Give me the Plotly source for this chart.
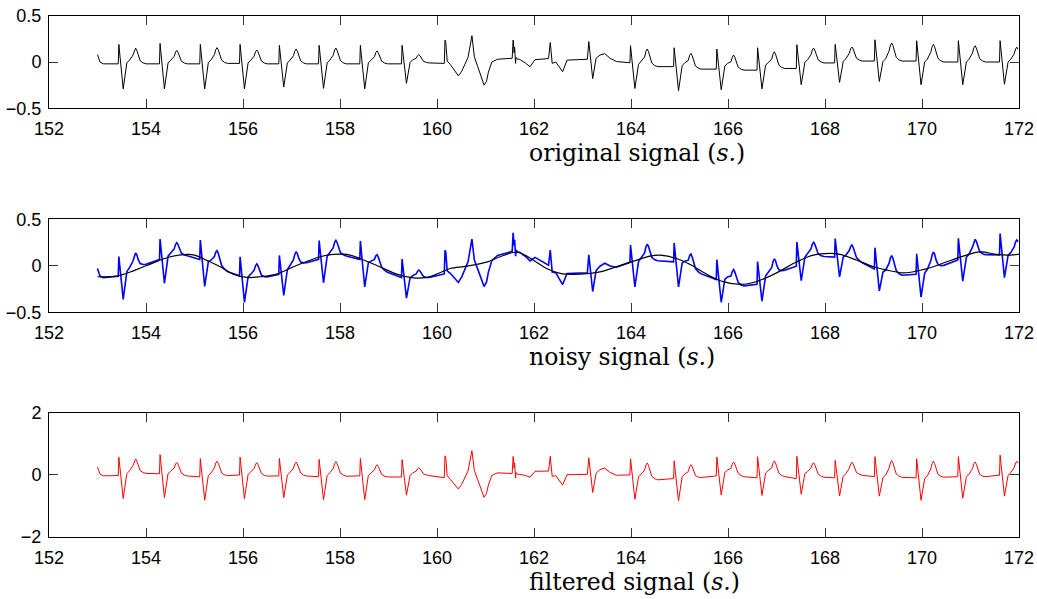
import numpy as np
import plotly.graph_objects as go

# ---- regular beats: R-peak time (s) and wave levels ----
R_TIME = [153.44, 154.29, 155.12, 155.94, 156.75, 157.57, 158.42, 159.28,
          163.99, 164.89, 165.77, 166.61, 167.42, 168.21, 169.03, 169.89, 170.75, 171.61]
R_AMP = [0.19, 0.20, 0.19, 0.19, 0.18, 0.18, 0.18, 0.18,
         0.176, 0.154, 0.14, 0.154, 0.187, 0.19, 0.24, 0.23, 0.23, 0.23]
S_AMP = [-0.29, -0.29, -0.29, -0.29, -0.27, -0.285, -0.29, -0.23,
         -0.286, -0.31, -0.30, -0.29, -0.245, -0.22, -0.21, -0.245, -0.245, -0.24]
T_AMP = [0.15, 0.125, 0.155, 0.13, 0.14, 0.15, 0.12, 0.08,
         0.14, 0.093, 0.075, 0.11, 0.15, 0.162, 0.205, 0.19, 0.175, 0.16]
BASE = [-0.02, -0.02, -0.015, -0.02, -0.02, -0.02, -0.02, -0.01,
        -0.05, -0.077, -0.088, -0.07, -0.01, 0.01, 0.01, 0.0, 0.0, 0.0]

# opening samples of the record
START_T = [153.0, 153.05, 153.12]
START_V = [0.08, 0.0, -0.02]

# irregular stretch (ectopic beats) between 160 s and 164 s
ABN_T = [160.15, 160.165, 160.18, 160.21, 160.28, 160.36, 160.44, 160.51, 160.58, 160.64,
         160.72, 160.77, 160.84, 160.91, 160.97, 161.02, 161.06, 161.13, 161.25, 161.55,
         161.57, 161.59, 161.60, 161.62, 161.63, 161.66, 161.70, 161.82, 161.92,
         162.02, 162.30, 162.335, 162.375, 162.45, 162.53, 162.59, 162.68, 163.10,
         163.13, 163.21, 163.28, 163.36, 163.46, 163.57, 163.70, 163.91]
ABN_V = [-0.015, 0.237, 0.22, 0.01, -0.03, -0.09, -0.15, -0.10, -0.02, 0.05,
         0.284, 0.056, -0.05, -0.17, -0.25, -0.21, -0.11, 0.0, 0.03, 0.04,
         0.237, 0.10, 0.16, -0.015, 0.05, 0.03, 0.03, -0.01, -0.05,
         0.025, 0.037, 0.21, -0.015, 0.0, -0.06, -0.105, 0.02, 0.03,
         0.22, -0.18, 0.04, 0.075, 0.09, 0.04, 0.005, -0.008]

# baseline wander present in the noisy recording
WANDER_T = [153.0, 153.2, 153.4, 153.75, 154.1, 154.5, 154.9, 155.2, 155.5, 155.8,
            156.1, 156.4, 156.7, 157.0, 157.4, 157.8, 158.1, 158.4, 158.8, 159.2,
            159.5, 159.8, 160.1, 160.5, 161.0, 161.3, 161.6, 161.9, 162.2, 162.5,
            162.9, 163.3, 163.7, 164.0, 164.4, 164.7, 165.0, 165.3, 165.6, 165.9,
            166.3, 166.6, 166.9, 167.2, 167.6, 168.0, 168.3, 168.7, 169.0, 169.3,
            169.7, 170.0, 170.3, 170.6, 170.9, 171.2, 171.5, 171.8, 172.0]
WANDER_V = [-0.11, -0.105, -0.10, -0.02, 0.06, 0.12, 0.13, 0.07, 0.0, -0.08,
            -0.11, -0.11, -0.08, -0.01, 0.07, 0.12, 0.13, 0.09, -0.01, -0.10,
            -0.13, -0.12, -0.08, -0.02, 0.03, 0.09, 0.12, 0.11, 0.0, -0.09,
            -0.12, -0.09, -0.02, 0.05, 0.10, 0.11, 0.08, 0.02, -0.04, -0.10,
            -0.13, -0.11, -0.05, 0.03, 0.10, 0.11, 0.10, 0.04, -0.04, -0.09,
            -0.12, -0.09, -0.03, 0.04, 0.09, 0.12, 0.12, 0.11, 0.12]

# estimated baseline (smooth black curve)
BLACK_T = [153.0, 153.4, 153.74, 154.0, 154.5, 154.84, 155.0, 155.25, 155.53, 155.80,
           156.08, 156.35, 156.69, 157.04, 157.38, 157.59, 157.86, 158.14, 158.41, 158.82,
           159.17, 159.51, 159.79, 160.06, 160.27, 160.61, 161.02, 161.30, 161.57, 161.71,
           161.99, 162.26, 162.54, 162.95, 163.36, 163.70, 164.05, 164.39, 164.60, 164.94,
           165.22, 165.56, 165.90, 166.25, 166.52, 166.80, 167.07, 167.42, 167.76, 168.10,
           168.31, 168.66, 169.00, 169.28, 169.61, 169.89, 170.23, 170.51, 170.85, 171.20,
           171.54, 171.81, 172.0]
BLACK_V = [-0.118, -0.11, -0.054, 0.0, 0.097, 0.122, 0.115, 0.06, -0.01, -0.09,
           -0.125, -0.118, -0.09, -0.01, 0.06, 0.097, 0.122, 0.122, 0.079, -0.01,
           -0.09, -0.13, -0.125, -0.075, -0.029, -0.004, 0.04, 0.097, 0.143, 0.14,
           0.06, -0.029, -0.082, -0.09, -0.065, -0.01, 0.05, 0.104, 0.115, 0.079,
           0.014, -0.09, -0.17, -0.2, -0.18, -0.125, -0.057, 0.043, 0.115, 0.133,
           0.122, 0.06, -0.01, -0.047, -0.075, -0.057, -0.01, 0.043, 0.104, 0.15,
           0.122, 0.115, 0.125]

FILTER_GAIN = 2.8
X_TICKS = [152, 154, 156, 158, 160, 162, 164, 166, 168, 170, 172]


def beat(tr, r, s, tw, b_prev, b):
    """Points of one regular beat: baseline, R spike, S trough, rounded T wave."""
    dt = [-0.012, 0.0, 0.09, 0.165, 0.22, 0.29, 0.32, 0.345, 0.37, 0.40, 0.44, 0.50, 0.56]
    h = tw - b
    vs = [b_prev, r, s, 0.5 * b, 0.5 * b + 0.03, b + 0.55 * h, b + 0.88 * h, tw,
          b + 0.86 * h, b + 0.5 * h, b + 0.2 * h, b + 0.06 * h, b]
    return [tr + d for d in dt], vs


pts_t = list(START_T) + list(ABN_T)
pts_v = list(START_V) + list(ABN_V)
prev = START_V[-1]
for i, tr in enumerate(R_TIME):
    if i > 0 and R_TIME[i - 1] < 160 < tr:
        prev = ABN_V[-1]
    ts, vs = beat(tr, R_AMP[i], S_AMP[i], T_AMP[i], prev, BASE[i])
    pts_t += ts
    pts_v += vs
    prev = BASE[i]

order = np.argsort(pts_t)
t = np.array(pts_t)[order]
orig = np.array(pts_v)[order]
keep = t <= 172.0
t, orig = t[keep], orig[keep]

noisy = orig + np.interp(t, WANDER_T, WANDER_V)
filtered = FILTER_GAIN * (noisy - np.interp(t, BLACK_T, BLACK_V))

fig = go.Figure()
fig.add_trace(go.Scatter(x=t, y=orig, mode="lines",
                         line=dict(color="black", width=1), xaxis="x", yaxis="y"))
fig.add_trace(go.Scatter(x=t, y=noisy, mode="lines",
                         line=dict(color="#0000ff", width=1.6), xaxis="x2", yaxis="y2"))
fig.add_trace(go.Scatter(x=BLACK_T, y=BLACK_V, mode="lines",
                         line=dict(color="black", width=1.2, shape="spline"),
                         xaxis="x2", yaxis="y2"))
fig.add_trace(go.Scatter(x=t, y=filtered, mode="lines",
                         line=dict(color="#ff0000", width=1), xaxis="x3", yaxis="y3"))

W, H = 1037, 599
xdom = [49 / W, 1019 / W]
tick_font = dict(family="Liberation Sans, Arial, sans-serif", size=18, color="black")

common = dict(showline=True, linecolor="black", linewidth=1, mirror="ticks",
              ticks="inside", ticklen=9, tickcolor="#333", tickwidth=1,
              showgrid=False, zeroline=False, tickfont=tick_font, automargin=False)

xax = dict(common, range=[152, 172], tickvals=X_TICKS,
           ticktext=[str(v) for v in X_TICKS], domain=xdom, ticklabelstandoff=4)


def ydom(top, bottom):
    return [1 - bottom / H, 1 - top / H]


fig.update_layout(
    width=W, height=H, margin=dict(l=0, r=0, t=0, b=0, pad=0),
    paper_bgcolor="white", plot_bgcolor="white", showlegend=False,
    xaxis=dict(xax, anchor="y"),
    xaxis2=dict(xax, anchor="y2"),
    xaxis3=dict(xax, anchor="y3"),
    yaxis=dict(common, range=[-0.5, 0.5], tickvals=[-0.5, 0, 0.5],
               ticktext=["\u22120.5", "0", "0.5"], domain=ydom(15.7, 108.3),
               anchor="x", ticklabelstandoff=3),
    yaxis2=dict(common, range=[-0.5, 0.5], tickvals=[-0.5, 0, 0.5],
                ticktext=["\u22120.5", "0", "0.5"], domain=ydom(219.3, 312.3),
                anchor="x2", ticklabelstandoff=3),
    yaxis3=dict(common, range=[-2, 2], tickvals=[-2, 0, 2],
                ticktext=["\u22122", "0", "2"], domain=ydom(412.7, 537),
                anchor="x3", ticklabelstandoff=3),
)

label_font = dict(family="DejaVu Serif, Liberation Serif, serif", size=23.5, color="black")
for text, yc in [("original signal (<i>s.</i>)", 153),
                 ("noisy signal (<i>s.</i>)", 357),
                 ("filtered signal (<i>s.</i>)", 582)]:
    fig.add_annotation(text=text, xref="paper", yref="paper", x=528 / W, y=1 - yc / H,
                       xanchor="left", yanchor="middle", showarrow=False,
                       font=label_font, borderpad=0)

fig.write_html("out.html")
